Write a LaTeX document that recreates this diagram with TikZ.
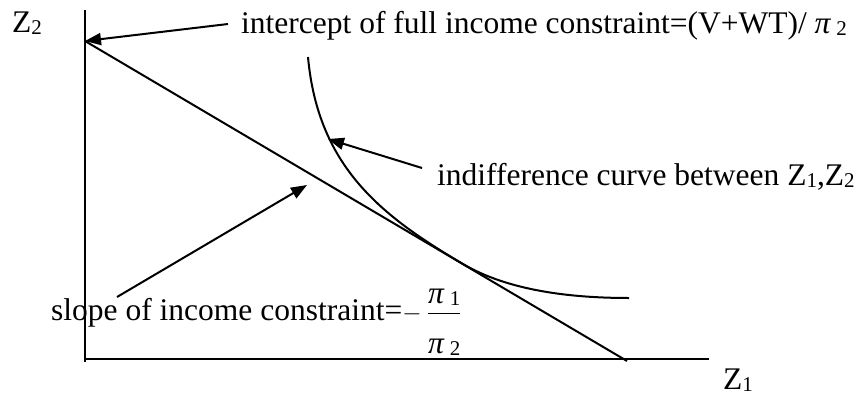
\documentclass[tikz,border=0pt]{standalone}
\usepackage{amsmath}
\usepackage{fontspec}
\setmainfont{Liberation Serif}
\usepackage{xcolor}
\usepackage{tikz}
\usetikzlibrary{arrows.meta}
\newcommand{\lowsub}[1]{\raisebox{-2pt}{\fontsize{21}{21}\selectfont #1}}
\newcommand{\piit}{\textit{π}}
\tikzset{
  axisline/.style={line width=2pt, draw=black},
  budget/.style={line width=2pt, draw=black},
  indiff/.style={line width=2pt, draw=black},
  pointer/.style={line width=2pt, draw=black, -{Triangle[length=16pt,width=12pt]}},
  lbl/.style={font=\fontsize{31.5}{36}\selectfont, inner sep=0pt, anchor=base west}
}

\begin{document}
\begin{tikzpicture}[x=1pt,y=-1pt]
\useasboundingbox (0,0) rectangle (860,397);

\coordinate (O) at (85,359);
\coordinate (ytop) at (85,10);
\coordinate (ybot) at (85,362);
\coordinate (xend) at (709,359);
\coordinate (icpt) at (85,41);
\coordinate (xcut) at (627,361);
\coordinate (tangent) at (463,264);
\coordinate (ictop) at (308,57);
\coordinate (icend) at (629,298);
\coordinate (ictip) at (328,139);
\coordinate (slopetip) at (307,185);

\node[lbl] (ztwo) at (12,32) {Z\lowsub{2}};
\node[lbl] (zone) at (723,389) {Z\lowsub{1}};
\node[lbl] (lblicpt) at (241,33) {intercept of full income constraint=(V+WT)/ \piit\,\lowsub{2}};
\node[lbl] (lblindiff) at (437,185) {indifference curve between Z\lowsub{1},Z\lowsub{2}};
\node[lbl] (lblslope) at (51,320) {slope of income constraint=$-$\,$\dfrac{\text{\piit\,\lowsub{1}}}{\rule{0pt}{36pt}\text{\piit\,\lowsub{2}}}$};

\draw[axisline] (ytop) -- (ybot);
\draw[axisline] (O) -- (xend);
\draw[budget] (icpt) -- (xcut);
\draw[indiff] (ictop) .. controls (318,167) and (381.5,216) .. (tangent)
  .. controls (508,290.5) and (570,298) .. (icend);

\draw[pointer] ([xshift=-13pt,yshift=9pt]lblicpt.base west) -- (icpt);
\draw[pointer] ([xshift=-15pt,yshift=17pt]lblindiff.base west) -- (ictip);
\draw[pointer] ([xshift=66pt,yshift=23pt]lblslope.base west) -- (slopetip);

\end{tikzpicture}
\end{document}
